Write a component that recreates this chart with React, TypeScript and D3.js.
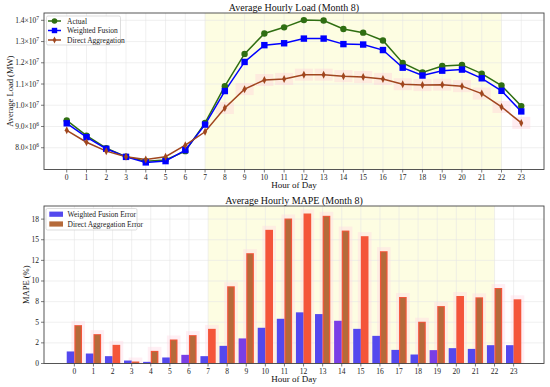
import React from "react";
import * as d3 from "d3";

// hourly averages for month 8
const hours = [0, 1, 2, 3, 4, 5, 6, 7, 8, 9, 10, 11, 12, 13, 14, 15, 16, 17, 18, 19, 20, 21, 22, 23];

const actual = [9.29e6, 8.57e6, 7.98e6, 7.58e6, 7.36e6, 7.42e6, 7.84e6, 9.17e6, 10.9e6, 12.42e6, 13.38e6, 13.67e6,
  14.01e6, 13.99e6, 13.59e6, 13.42e6, 13.05e6, 11.99e6, 11.55e6, 11.85e6, 11.9e6, 11.49e6, 10.93e6, 9.96e6];
const weighted = [9.15e6, 8.5e6, 7.95e6, 7.57e6, 7.31e6, 7.37e6, 7.89e6, 9.09e6, 10.67e6, 12.04e6, 12.83e6, 12.92e6,
  13.14e6, 13.14e6, 12.88e6, 12.86e6, 12.6e6, 11.77e6, 11.4e6, 11.63e6, 11.68e6, 11.27e6, 10.68e6, 9.71e6];
const direct = [8.82e6, 8.26e6, 7.84e6, 7.58e6, 7.45e6, 7.58e6, 8.12e6, 8.75e6, 9.87e6, 10.76e6, 11.19e6, 11.24e6,
  11.44e6, 11.44e6, 11.37e6, 11.33e6, 11.24e6, 10.99e6, 10.95e6, 10.97e6, 10.9e6, 10.55e6, 9.92e6, 9.17e6];

const wfError = [1.46, 1.21, 0.89, 0.36, 0.2, 0.73, 1.05, 0.89, 2.14, 3.04, 4.33, 5.42, 6.2, 5.99, 5.18, 4.2, 3.35,
  1.65, 1.09, 1.62, 1.86, 1.77, 2.22, 2.22];
const daError = [4.65, 3.56, 2.26, 0.24, 1.53, 2.91, 3.44, 4.2, 9.36, 13.37, 16.2, 17.57, 18.18, 17.9, 16.11, 15.43,
  13.61, 8.06, 5.06, 6.96, 8.18, 8.02, 9.15, 7.78];

const loadTicks = [8e6, 9e6, 10e6, 11e6, 12e6, 13e6, 14e6];
const mapeTicks = [0, 2.5, 5, 7.5, 10, 12.5, 15, 17.5];
const mapeTickLabels = ["0", "2", "5", "8", "10", "12", "15", "18"];
const peakHours = [7, 22];

// bars that came out plain red instead of brown
const redBars = [2, 7, 10, 12, 15, 20, 23];
const purpleBars = [6, 9, 14, 19];

const W = 550, H = 387;
const left = 44, right = 544;
const top1 = 13, bot1 = 169.5;
const top2 = 206, bot2 = 363.5;
const FONT = "'Liberation Serif', 'Times New Roman', serif";

const GREEN = "#2f6e12";
const BLUE = "#0000ff";
const SIENNA = "#a0461e";

function sciLabel(v) {
  const e = Math.floor(Math.log10(v));
  const m = (v / Math.pow(10, e)).toFixed(1);
  return { m, e };
}

const LoadChart = () => {
  const x = d3.scaleLinear().domain([-1.15, 24.15]).range([left, right]);
  const all = actual.concat(weighted, direct);
  const lo = d3.min(all), hi = d3.max(all);
  const pad = (hi - lo) * 0.05;
  const y = d3.scaleLinear().domain([lo - pad, hi + pad]).range([bot1, top1]);
  const line = d3.line().x((d, i) => x(hours[i])).y(d => y(d));

  return (
    <g>
      <rect x={x(peakHours[0])} y={top1} width={x(peakHours[1]) - x(peakHours[0])} height={bot1 - top1} fill="#fdfde2" />
      {hours.map(h => (
        <line key={"gx" + h} x1={x(h)} x2={x(h)} y1={top1} y2={bot1} stroke="#e6e6e6" strokeWidth={0.6} />
      ))}
      {loadTicks.map(t => (
        <line key={"gy" + t} x1={left} x2={right} y1={y(t)} y2={y(t)} stroke="#e6e6e6" strokeWidth={0.6} />
      ))}
      {/* pinkish glow behind the aggregation markers */}
      {direct.map((d, i) => i >= 8 ? (
        <rect key={"pk" + i} x={x(hours[i]) - 9} y={y(d) - 6} width={18} height={12} fill="#ffc8d8" opacity={0.35} />
      ) : null)}
      <path d={line(actual)} fill="none" stroke={GREEN} strokeWidth={1.5} />
      <path d={line(weighted)} fill="none" stroke={BLUE} strokeWidth={1.5} />
      <path d={line(direct)} fill="none" stroke={SIENNA} strokeWidth={1.5} />
      {actual.map((d, i) => <circle key={"a" + i} cx={x(hours[i])} cy={y(d)} r={3.2} fill={GREEN} />)}
      {weighted.map((d, i) => <rect key={"w" + i} x={x(hours[i]) - 3.2} y={y(d) - 3.2} width={6.4} height={6.4} fill={BLUE} />)}
      {direct.map((d, i) => {
        const cx = x(hours[i]), cy = y(d);
        return <path key={"d" + i} d={`M${cx},${cy - 4}L${cx + 2},${cy}L${cx},${cy + 4}L${cx - 2},${cy}Z`} fill={SIENNA} />;
      })}
      <rect x={left} y={top1} width={right - left} height={bot1 - top1} fill="none" stroke="#444" strokeWidth={0.9} />
      {hours.map(h => (
        <g key={"xt" + h}>
          <line x1={x(h)} x2={x(h)} y1={bot1} y2={bot1 + 3} stroke="#444" strokeWidth={0.7} />
          <text x={x(h)} y={bot1 + 10} textAnchor="middle" fontSize={7.5} fontFamily={FONT} fill="#222">{h}</text>
        </g>
      ))}
      {loadTicks.map(t => {
        const { m, e } = sciLabel(t);
        return (
          <g key={"yt" + t}>
            <line x1={left - 3} x2={left} y1={y(t)} y2={y(t)} stroke="#444" strokeWidth={0.7} />
            <text x={left - 5} y={y(t) + 2.5} textAnchor="end" fontSize={7.5} fontFamily={FONT} fill="#222">
              {m}×10<tspan fontSize={5.5} dy={-3}>{e}</tspan>
            </text>
          </g>
        );
      })}
      <text x={(left + right) / 2} y={10.5} textAnchor="middle" fontSize={10} fontFamily={FONT} fill="#111">Average Hourly Load (Month 8)</text>
      <text x={(left + right) / 2} y={188} textAnchor="middle" fontSize={9} fontFamily={FONT} fill="#111">Hour of Day</text>
      <text transform={`translate(13,${(top1 + bot1) / 2}) rotate(-90)`} textAnchor="middle" fontSize={8.5} fontFamily={FONT} fill="#111">Average Load (MW)</text>
      {/* legend */}
      <rect x={46.5} y={16} width={74} height={29} rx={1.5} fill="#fff" fillOpacity={0.85} stroke="#cfcfcf" strokeWidth={0.7} />
      {[["Actual", GREEN, "c"], ["Weighted Fusion", BLUE, "s"], ["Direct Aggregation", SIENNA, "d"]].map(([name, c, m], k) => {
        const ly = 21 + k * 9.5;
        return (
          <g key={"lg" + k}>
            <line x1={48} x2={61} y1={ly} y2={ly} stroke={c} strokeWidth={1.5} />
            {m === "c" && <circle cx={54.5} cy={ly} r={2.8} fill={c} />}
            {m === "s" && <rect x={51.8} y={ly - 2.7} width={5.4} height={5.4} fill={c} />}
            {m === "d" && <path d={`M54.5,${ly - 3.5}L56.3,${ly}L54.5,${ly + 3.5}L52.7,${ly}Z`} fill={c} />}
            <text x={67} y={ly + 2.5} fontSize={7.5} fontFamily={FONT} fill="#222">{name}</text>
          </g>
        );
      })}
    </g>
  );
};

const MapeChart = () => {
  const bw = 0.4;
  const x = d3.scaleLinear().domain([-0.4 - 1.19, 23.4 + 1.19]).range([left, right]);
  const y = d3.scaleLinear().domain([0, d3.max(daError.concat(wfError)) * 1.05]).range([bot2, top2]);
  const pxw = x(bw) - x(0);

  return (
    <g>
      <rect x={x(peakHours[0])} y={top2} width={x(peakHours[1]) - x(peakHours[0])} height={bot2 - top2} fill="#fdfde2" />
      {hours.map(h => (
        <line key={"gx" + h} x1={x(h)} x2={x(h)} y1={top2} y2={bot2} stroke="#e6e6e6" strokeWidth={0.6} />
      ))}
      {mapeTicks.map(t => (
        <line key={"gy" + t} x1={left} x2={right} y1={y(t)} y2={y(t)} stroke="#e6e6e6" strokeWidth={0.6} />
      ))}
      {daError.map((d, i) => (
        <rect key={"pk" + i} x={x(hours[i]) - 3} y={y(d) - 4} width={pxw + 6} height={bot2 - y(d) + 4} fill="#ffd6e4" opacity={0.4} />
      ))}
      {wfError.map((d, i) => (
        <rect key={"wb" + i} x={x(hours[i] - bw)} y={y(d)} width={pxw} height={bot2 - y(d)}
          fill={purpleBars.includes(hours[i]) ? "#7a3ee6" : "#5448ee"} />
      ))}
      {daError.map((d, i) => {
        const bx = x(hours[i]);
        const red = redBars.includes(hours[i]);
        return (
          <g key={"db" + i}>
            <rect x={bx} y={y(d)} width={pxw} height={bot2 - y(d)} fill="#f4553a" />
            {!red && <rect x={bx + 1.2} y={y(d) + 1} width={pxw - 2.4} height={bot2 - y(d) - 1} fill="#b56a3a" />}
          </g>
        );
      })}
      <rect x={left} y={top2} width={right - left} height={bot2 - top2} fill="none" stroke="#444" strokeWidth={0.9} />
      {hours.map(h => (
        <g key={"xt" + h}>
          <line x1={x(h)} x2={x(h)} y1={bot2} y2={bot2 + 3} stroke="#444" strokeWidth={0.7} />
          <text x={x(h)} y={bot2 + 10} textAnchor="middle" fontSize={7.5} fontFamily={FONT} fill="#222">{h}</text>
        </g>
      ))}
      {mapeTicks.map((t, k) => (
        <g key={"yt" + t}>
          <line x1={left - 3} x2={left} y1={y(t)} y2={y(t)} stroke="#444" strokeWidth={0.7} />
          <text x={left - 5} y={y(t) + 2.5} textAnchor="end" fontSize={7.5} fontFamily={FONT} fill="#222">{mapeTickLabels[k]}</text>
        </g>
      ))}
      <text x={(left + right) / 2} y={204} textAnchor="middle" fontSize={10} fontFamily={FONT} fill="#111">Average Hourly MAPE (Month 8)</text>
      <text x={(left + right) / 2} y={382} textAnchor="middle" fontSize={9} fontFamily={FONT} fill="#111">Hour of Day</text>
      <text transform={`translate(29,${(top2 + bot2) / 2}) rotate(-90)`} textAnchor="middle" fontSize={8.5} fontFamily={FONT} fill="#111">MAPE (%)</text>
      {/* legend */}
      <rect x={46} y={208.5} width={91} height={21.5} rx={1.5} fill="#fff" fillOpacity={0.85} stroke="#cfcfcf" strokeWidth={0.7} />
      <rect x={49.3} y={211.6} width={13.7} height={5.2} fill="#5448ee" />
      <text x={67.5} y={216.8} fontSize={7.5} fontFamily={FONT} fill="#222">Weighted Fusion Error</text>
      <rect x={49.3} y={221.4} width={13.7} height={5.2} fill="#b56a3a" />
      <text x={67.5} y={226.6} fontSize={7.5} fontFamily={FONT} fill="#222">Direct Aggregation Error</text>
    </g>
  );
};

export default function App() {
  return (
    <svg width={W} height={H} style={{ position: "absolute", left: 0, top: 0, background: "#fff" }}>
      <rect width={W} height={H} fill="#fff" />
      <LoadChart />
      <MapeChart />
    </svg>
  );
}
